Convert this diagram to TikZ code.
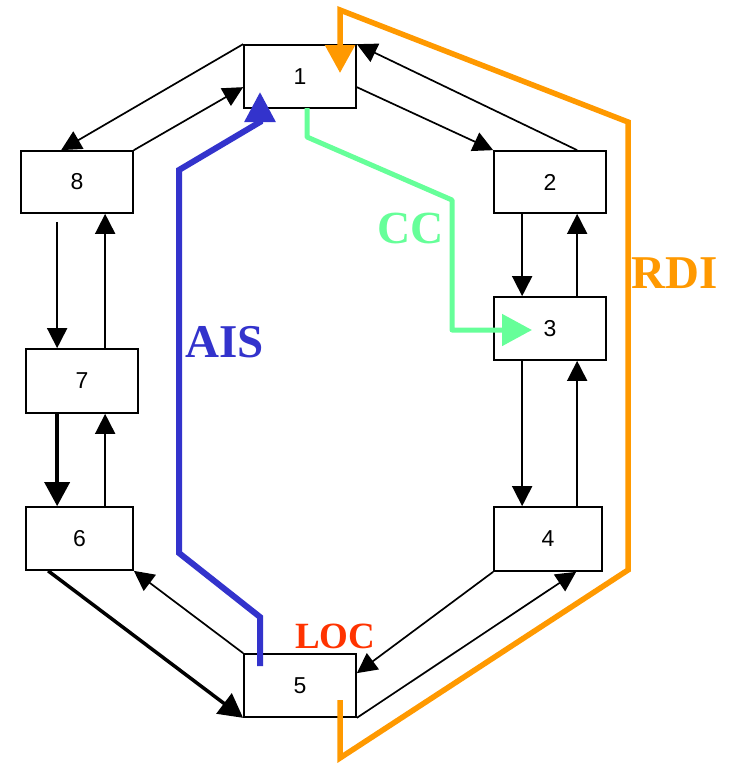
\documentclass[tikz,border=0pt]{standalone}
\usepackage{fontspec}
\setmainfont{Liberation Serif}
\newfontfamily\boxfont{Liberation Sans}
\usetikzlibrary{arrows.meta,calc}
\definecolor{aisblue}{HTML}{3333CC}
\definecolor{rdiorange}{HTML}{FF9900}
\definecolor{ccgreen}{HTML}{66FF99}
\definecolor{locred}{HTML}{FF3300}
\tikzset{
  box/.style={draw=black, line width=1.7pt, fill=white, inner sep=0pt, font=\boxfont\fontsize{23}{23}\selectfont},
  conn/.style={line width=1.7pt, -{Triangle[length=20pt,width=20pt]}},
  thickconn/.style={line width=3.5pt, -{Triangle[length=24pt,width=25pt]}},
  lbl/.style={anchor=base west, inner sep=0pt, font=\bfseries\fontsize{46}{46}\selectfont},
}
\begin{document}
\begin{tikzpicture}[x=1pt,y=-1pt]
\useasboundingbox (0,0) rectangle (730,763);
% boxes
\node[box, minimum width=112pt, minimum height=63pt] (b1) at (300,76.5) {1};
\node[box, minimum width=112pt, minimum height=62pt] (b2) at (550,182) {2};
\node[box, minimum width=112pt, minimum height=63pt] (b3) at (550,328.5) {3};
\node[box, minimum width=108pt, minimum height=64pt] (b4) at (548,539) {4};
\node[box, minimum width=112pt, minimum height=63pt] (b5) at (300,685.5) {5};
\node[box, minimum width=107pt, minimum height=63pt] (b6) at (79.5,538.5) {6};
\node[box, minimum width=112pt, minimum height=64pt] (b7) at (82,381) {7};
\node[box, minimum width=112pt, minimum height=62pt] (b8) at (77,182) {8};
% black connectors
\draw[conn] (b1.north west) -- ($(b8.north west)+(41,0)$);
\draw[conn] (b8.north east) -- ($(b1.north west)+(0,43)$);
\draw[conn] ($(b1.north east)+(0,43)$) -- (b2.north west);
\draw[conn] ($(b2.north west)+(84,0)$) -- (b1.north east);
\draw[conn] ($(b2.south west)+(29,0)$) -- ($(b3.north west)+(29,0)$);
\draw[conn] ($(b3.north west)+(84,0)$) -- ($(b2.south west)+(84,0)$);
\draw[conn] ($(b3.south west)+(29,0)$) -- ($(b4.north west)+(29,0)$);
\draw[conn] ($(b4.north west)+(84,0)$) -- ($(b3.south west)+(84,0)$);
\draw[conn] (b4.south west) -- ($(b5.north east)+(0,20)$);
\draw[conn] (b5.south east) -- ($(b4.south west)+(83,0)$);
\draw[conn] (b5.north west) -- (b6.south east);
\draw[thickconn] ($(b6.south west)+(23,0)$) -- (b5.south west);
\draw[thickconn] ($(b7.south west)+(32,0)$) -- ($(b6.north west)+(32,0)$);
\draw[conn] ($(b6.north west)+(80,0)$) -- ($(b7.south west)+(80,0)$);
\draw[conn] ($(b8.south west)+(37,8)$) -- ($(b7.north west)+(32,0)$);
\draw[conn] ($(b7.north west)+(80,0)$) -- ($(b8.south west)+(85,0)$);
% colored paths
\draw[aisblue, line width=6pt, -{Triangle[length=30pt,width=30pt]}]
  (260,666) -- (260,617) -- (179,553) -- (179,170) -- (260,122) -- (260,92);
\draw[rdiorange, line width=5.5pt, -{Triangle[length=28pt,width=29pt]}]
  (340,700) -- (340,758) -- (628,570) -- (628,122) -- (340,10) -- (340,73);
\draw[ccgreen, line width=5pt, line join=round, -{Triangle[length=30pt,width=31pt]}]
  (307,108) -- (307,137) -- (452,200) -- (452,330) -- (532,330);
% labels
\node[lbl, text=ccgreen] (cc) at (377,243) {CC};
\node[lbl, text=aisblue, font=\bfseries\fontsize{47}{47}\selectfont] (ais) at (185,357) {AIS};
\node[lbl, text=rdiorange, font=\bfseries\fontsize{47}{47}\selectfont] (rdi) at (631,288) {RDI};
\node[lbl, text=locred, font=\bfseries\fontsize{37}{37}\selectfont] (loc) at (295,648) {LOC};
\end{tikzpicture}
\end{document}
